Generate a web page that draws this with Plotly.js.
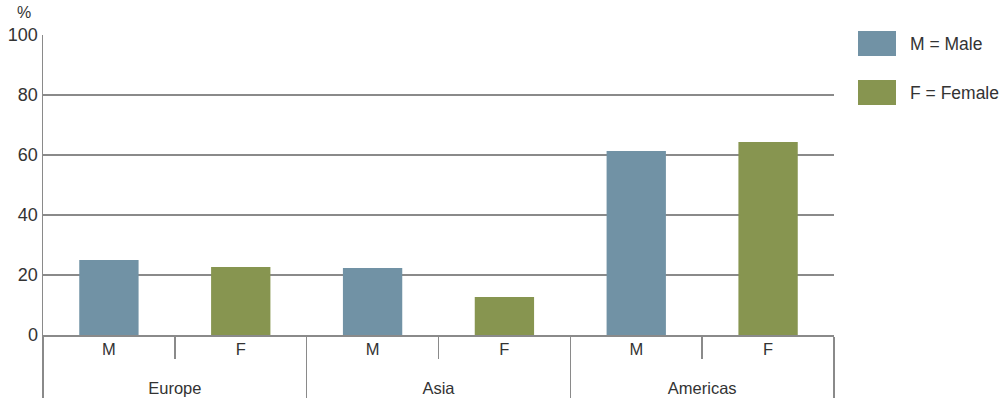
<!DOCTYPE html>
<html>
<head>
<meta charset="utf-8">
<script src="https://cdn.plot.ly/plotly-3.0.1.min.js"></script>
<style>
  html, body { margin: 0; padding: 0; background: #fff; }
  #chart { width: 1006px; height: 399px; }
</style>
</head>
<body>
<div id="chart"></div>
<script>
// ---- data ----
const regions = ['Europe', 'Asia', 'Americas'];
const maleLabel = 'M';
const femaleLabel = 'F';
const maleValues = [25, 22.3, 61.3];
const femaleValues = [22.7, 12.7, 64.3];
const yTicks = [0, 20, 40, 60, 80, 100];
const legendLabels = ['M = Male', 'F = Female'];
const yUnit = '%';

// ---- style ----
const maleColor = '#7192a5';
const femaleColor = '#879550';
const lineColor = '#8a8a8a';
const textColor = '#333333';
const fontFamily = '"Liberation Sans", Arial, sans-serif';
const labelSize = 16.5;

const W = 1006, H = 399;
const margin = {l: 43, r: 172, t: 35, b: 64};
const plotW = W - margin.l - margin.r;
const plotH = H - margin.t - margin.b;
const px2x = p => (p - margin.l) / plotW;
const px2y = p => (H - margin.b - p) / plotH;

const sized = t => '<span style="font-size:' + labelSize + 'px">' + t + '</span>';
// second-level labels pushed down one (small) line to sit below the inner ticks
const regionLabels = regions.map(r => '<br>' + sized(r));

const traces = [
  {
    type: 'bar',
    name: legendLabels[0],
    x: [regionLabels, regions.map(() => sized(maleLabel))],
    y: maleValues,
    width: 0.45,
    marker: {color: maleColor},
    hoverinfo: 'y'
  },
  {
    type: 'bar',
    name: legendLabels[1],
    x: [regionLabels, regions.map(() => sized(femaleLabel))],
    y: femaleValues,
    width: 0.45,
    marker: {color: femaleColor},
    hoverinfo: 'y'
  }
];

// custom legend (large swatches)
const swatchColors = [maleColor, femaleColor];
const swatchTops = [31, 80];
const shapes = [];
const annotations = [];
legendLabels.forEach((lab, i) => {
  shapes.push({
    type: 'rect', xref: 'paper', yref: 'paper',
    x0: px2x(858), x1: px2x(896),
    y0: px2y(swatchTops[i] + 25), y1: px2y(swatchTops[i]),
    fillcolor: swatchColors[i], line: {width: 0}
  });
  annotations.push({
    xref: 'paper', yref: 'paper',
    x: px2x(908), y: px2y(swatchTops[i] + 12.5),
    xanchor: 'left', yanchor: 'middle',
    text: lab, showarrow: false,
    font: {size: 17.5, color: textColor, family: fontFamily}
  });
});
annotations.push({
  xref: 'paper', yref: 'paper',
  x: px2x(24), y: px2y(12),
  xanchor: 'center', yanchor: 'middle',
  text: yUnit, showarrow: false,
  font: {size: 16, color: textColor, family: fontFamily}
});

const layout = {
  width: W, height: H,
  margin: margin,
  paper_bgcolor: '#fff',
  plot_bgcolor: '#fff',
  barmode: 'overlay',
  showlegend: false,
  font: {family: fontFamily, color: textColor},
  xaxis: {
    type: 'multicategory',
    showline: true, linecolor: lineColor, linewidth: 1.5,
    ticks: 'outside', ticklen: 22, tickcolor: lineColor, tickwidth: 1.5,
    showdividers: true, dividercolor: lineColor, dividerwidth: 1.5,
    showgrid: false, zeroline: false,
    tickfont: {size: 15, color: textColor, family: fontFamily},
    fixedrange: true
  },
  yaxis: {
    range: [0, 100],
    tickvals: yTicks,
    ticktext: yTicks.map(String),
    showgrid: true, gridcolor: lineColor, gridwidth: 1.5,
    showline: true, linecolor: lineColor, linewidth: 1.5,
    zeroline: false,
    ticks: '',
    tickfont: {size: 18, color: textColor, family: fontFamily},
    fixedrange: true
  },
  shapes: shapes,
  annotations: annotations
};

Plotly.newPlot('chart', traces, layout, {displayModeBar: false, staticPlot: true});
</script>
</body>
</html>
